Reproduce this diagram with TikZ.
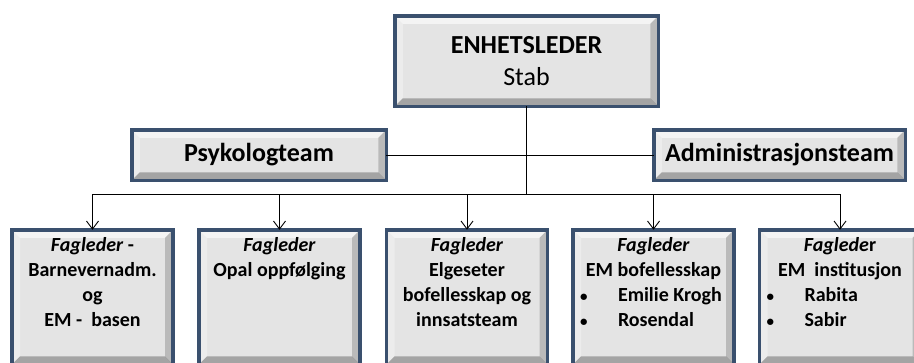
\documentclass[tikz,border=0pt]{standalone}
\usepackage{fontspec}
\setmainfont{Carlito}
\usetikzlibrary{arrows.meta,shadows}

\definecolor{rim}{RGB}{58,80,110}
\definecolor{face}{RGB}{228,228,228}

% bevelled face of every box
\newcommand\bevelsides{%
  \coordinate (pp nw) at (path picture bounding box.north west);
  \coordinate (pp ne) at (path picture bounding box.north east);
  \coordinate (pp sw) at (path picture bounding box.south west);
  \coordinate (pp se) at (path picture bounding box.south east);
  \fill[white,opacity=.6] (pp nw) -- (pp ne) -- ([xshift=-8pt,yshift=-8pt]pp ne) -- ([xshift=8pt,yshift=-8pt]pp nw) -- cycle;
  \fill[white,opacity=.3] (pp nw) -- ([xshift=8pt,yshift=-8pt]pp nw) -- ([xshift=8pt,yshift=8pt]pp sw) -- (pp sw) -- cycle;
  \fill[black,opacity=.18] (pp ne) -- (pp se) -- ([xshift=-8pt,yshift=8pt]pp se) -- ([xshift=-8pt,yshift=-8pt]pp ne) -- cycle;
  \fill[black,opacity=.28] (pp sw) -- (pp se) -- ([xshift=-8pt,yshift=8pt]pp se) -- ([xshift=8pt,yshift=8pt]pp sw) -- cycle;
}
\newcommand\fagtext[1]{\parbox[c][134.5pt][t]{161pt}{\centering\vspace*{8pt}#1\par}}
\newcommand\punkt[1]{\makebox[161pt][l]{\hspace{7pt}\makebox[38pt][l]{\fontsize{15}{15}\selectfont•}#1}}

\tikzset{
  unit/.style={draw=rim,line width=3.5pt,fill=face,inner sep=0pt,outer sep=0pt,
    drop shadow={opacity=.35,shadow xshift=1.5pt,shadow yshift=-1.5pt},
    path picture={\bevelsides}},
  fagbox/.style={unit,font=\bfseries\fontsize{20}{25}\selectfont},
  trunk/.style={line width=1.6pt},
  branch/.style={line width=.9pt,-{Straight Barb[length=8pt,width=12pt]}},
}

\begin{document}
\begin{tikzpicture}[x=1pt,y=-1pt]
\useasboundingbox (0,0) rectangle (914,362);

  \node[unit,minimum width=263.5pt,minimum height=90.5pt,
        font=\bfseries\fontsize{26}{32}\selectfont] (boss) at (526.5,61)
        {\parbox[c][90.5pt][t]{250pt}{\centering\vspace*{21pt}ENHETSLEDER\\ \mdseries Stab\par}};
  \node[unit,minimum width=254.5pt,minimum height=50.5pt,
        font=\bfseries\fontsize{26}{30}\selectfont] (psy) at (259,155) {Psykologteam};
  \node[unit,minimum width=251.5pt,minimum height=50.5pt,
        font=\bfseries\fontsize{26}{30}\selectfont] (adm) at (779.5,155) {Administrasjonsteam};

  \node[fagbox] (barnevern) at (92.5,297) {\fagtext{\textit{Fagleder} -\\ Barnevernadm.\\ og\\ EM -\ \ basen}};
  \node[fagbox] (opal)      at (279.5,297) {\fagtext{\textit{Fagleder}\\ Opal oppfølging}};
  \node[fagbox] (elgeseter) at (467,297) {\fagtext{\textit{Fagleder}\\ Elgeseter\\ bofellesskap og\\ innsatsteam}};
  \node[fagbox] (bofelles)  at (653.5,297) {\fagtext{\textit{Fagleder}\\ EM bofellesskap\\ \punkt{Emilie Krogh}\\ \punkt{Rosendal}}};
  \node[fagbox] (instit)    at (840,297) {\fagtext{\textit{Faglede}r\\ EM\ \ institusjon\\ \punkt{Rabita}\\ \punkt{Sabir}}};

  \coordinate (hub) at (526.5,194);

  \draw[trunk] (boss) -- (hub);
  \draw[line width=.8pt] (psy) -- (adm);
  \draw[branch] (hub) -| (barnevern);
  \draw[branch] (hub) -| (opal);
  \draw[branch] (hub) -| (elgeseter);
  \draw[branch] (hub) -| (bofelles);
  \draw[branch] (hub) -| (instit);
\end{tikzpicture}
\end{document}
